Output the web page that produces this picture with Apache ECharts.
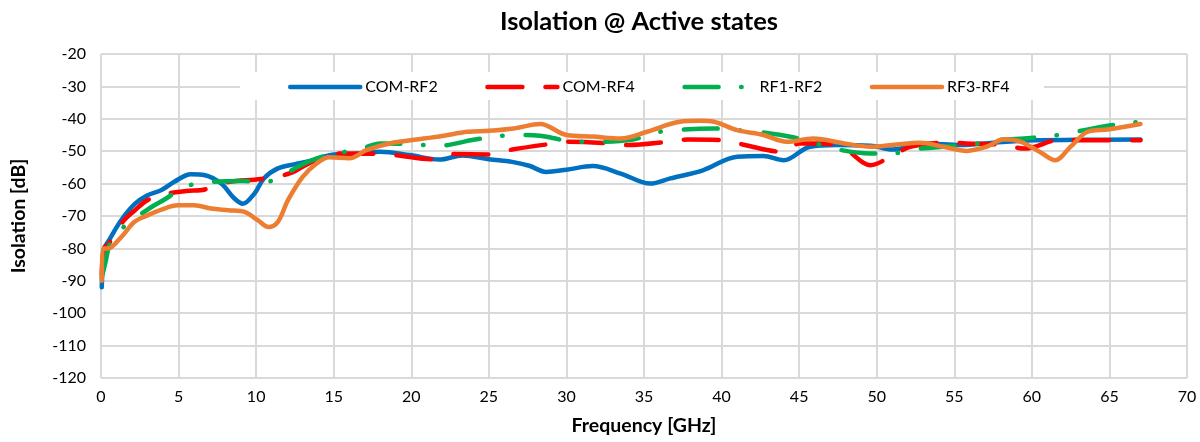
<!DOCTYPE html>
<html>
<head>
<meta charset="utf-8">
<script src="https://cdn.jsdelivr.net/npm/echarts@6/dist/echarts.min.js"></script>
<style>html,body{margin:0;padding:0;background:#fff}#c{width:1200px;height:442px}</style>
</head>
<body>
<div id="c"></div>
<script>
const seriesNames = ['COM-RF2', 'COM-RF4', 'RF1-RF2', 'RF3-RF4'];
const xTicks = {min: 0, max: 70, interval: 5};
const yTicks = {min: -120, max: -20, interval: 10};

const comRf2 = [[0.05,-92],[0.2,-80],[0.45,-78],[1.3,-71.3],[2.2,-66.2],[3,-63.6],[3.9,-62],[4.7,-59.5],[5.8,-57.1],[6.7,-57.4],[7.75,-60],[8.6,-64.6],[9.15,-66.2],[9.9,-63],[10.5,-58.4],[11.4,-55.3],[12.5,-54],[13.5,-53],[15,-51],[16.5,-50.8],[18,-50.2],[19.9,-51.2],[21.8,-52.6],[23.3,-51.3],[25,-52.5],[26.5,-53.3],[27.6,-54.5],[28.7,-56.4],[30,-55.7],[31.7,-54.6],[33.5,-56.9],[35.4,-60],[36.7,-58.4],[38.8,-55.9],[41,-51.7],[42.7,-51.5],[44,-52.8],[45.7,-48.6],[47.4,-48.1],[49.6,-48.3],[51,-49.5],[53.2,-47.6],[55.4,-48.1],[57.5,-47.4],[60.1,-46.6],[63,-46.5],[67,-46.4]];

const comRf4 = [[0.05,-88],[0.2,-80],[0.5,-78.5],[1.4,-71.8],[2.2,-68.2],[3,-65.1],[4.3,-63.1],[5.5,-62.3],[6.7,-61.8],[8.2,-59.5],[10.3,-58.6],[12.2,-56.8],[13.5,-53.5],[15.4,-50.7],[17.8,-50.8],[19,-51.2],[21.4,-52.5],[22.7,-50.9],[25,-51],[26.5,-49.5],[28.9,-47.8],[30.2,-47.1],[32.8,-47.6],[34,-48.1],[36.5,-47.1],[37.8,-46.4],[40.3,-46.6],[41.5,-48.1],[44,-50.2],[45,-47.6],[46.6,-47.6],[48,-49.5],[49.6,-54.3],[50.9,-51.7],[52.2,-48.6],[54.5,-47.4],[55.8,-47.6],[58.2,-48.1],[59.5,-49.2],[61.9,-46.4],[63.2,-46.6],[67,-46.6]];

const rf1Rf2 = [[0.05,-89],[0.3,-84],[0.6,-78],[1.05,-75.1],[2.05,-71.3],[3,-68],[4.2,-64.6],[5.3,-61.2],[6.6,-59.7],[8,-59.3],[9.15,-59.2],[10.4,-59.7],[11.6,-57.9],[12.5,-55.3],[13.5,-53],[15,-50.7],[16.5,-49.7],[18,-47.6],[20.3,-47.9],[21.6,-48.4],[24.1,-46.4],[25.4,-45.5],[26.7,-45],[28.3,-45.2],[29.1,-45.9],[30.5,-47.1],[31.8,-47.1],[34.3,-46.4],[35.7,-44.3],[37,-43.5],[39.5,-43],[41,-43.5],[42.3,-44],[44.6,-45.7],[46,-47.5],[47.2,-49.2],[49.6,-50.7],[51,-50.7],[52.3,-49.5],[54.8,-48.4],[56.2,-47.9],[57.4,-46.8],[59.9,-45.9],[61.3,-45.3],[62.6,-44.2],[65.1,-42],[66.4,-41.2],[67,-41]];

const rf3Rf4 = [[0.05,-90],[0.12,-80],[0.44,-80],[1.3,-76.5],[2.16,-71.8],[3,-69.8],[3.9,-68],[4.95,-66.7],[6,-66.7],[7.1,-67.7],[8.2,-68.2],[9.25,-68.7],[10.1,-71.3],[10.8,-73.4],[11.4,-71.8],[12.05,-65.1],[13,-57.9],[13.9,-53.8],[14.7,-51.9],[16,-52.2],[17.1,-49.7],[18.6,-47.6],[20.8,-46.1],[22,-45.3],[23.6,-44],[25,-43.7],[26.6,-43],[28.3,-41.6],[30,-45],[31.7,-45.5],[33.5,-46.1],[35.2,-44],[37.3,-40.9],[38.6,-40.6],[39.5,-40.9],[41,-43.5],[42.7,-45],[44.2,-47.1],[45.9,-46.1],[47.9,-47.6],[49.6,-48.6],[51,-48.1],[52.8,-47.4],[54.3,-48.6],[55.8,-49.9],[57.1,-48.6],[58.2,-46.3],[59.3,-47.1],[60.6,-50.5],[61.5,-52.8],[62.5,-48.6],[63.6,-44],[64.9,-43.3],[67,-41.6]];

const FONT = 'Lato';
const chart = echarts.init(document.getElementById('c'), null, {renderer: 'canvas'});
function mk(name, data, color, type) {
  return {
    name: name, type: 'line', data: data, smooth: 0.35, symbol: 'none',
    lineStyle: {color: color, width: 4.5, type: type, cap: 'round', join: 'round'},
    itemStyle: {color: color}
  };
}
chart.setOption({
  animation: false,
  backgroundColor: '#fff',
  title: {
    text: 'Isolation @ Active states', left: 634, top: 4, textAlign: 'center',
    textStyle: {fontFamily: FONT, fontWeight: 'bold', fontSize: 25.5, color: '#000'}
  },
  graphic: [{
    type: 'rect', z: 1, silent: true,
    shape: {x: 240, y: 72, width: 804, height: 28},
    style: {fill: '#fff'}
  }],
  legend: {
    z: 5, left: 283, top: 74, itemWidth: 70, itemHeight: 6, itemGap: 47.5,
    itemStyle: {opacity: 0},
    lineStyle: {width: 4.5, cap: 'round'},
    textStyle: {fontFamily: FONT, fontSize: 16, color: '#000'},
    data: seriesNames
  },
  grid: {left: 101, right: 13, top: 54, bottom: 64},
  xAxis: {
    type: 'value', min: xTicks.min, max: xTicks.max, interval: xTicks.interval,
    name: 'Frequency [GHz]', nameLocation: 'middle', nameGap: 38,
    nameTextStyle: {fontFamily: FONT, fontWeight: 'bold', fontSize: 19.5, color: '#000'},
    axisLine: {show: false}, axisTick: {show: false},
    axisLabel: {fontFamily: FONT, fontSize: 16, color: '#000', margin: 11},
    splitLine: {show: true, lineStyle: {color: '#d9d9d9', width: 2}}
  },
  yAxis: {
    type: 'value', min: yTicks.min, max: yTicks.max, interval: yTicks.interval,
    name: 'Isolation [dB]', nameLocation: 'middle', nameGap: 72, nameRotate: 90,
    nameTextStyle: {fontFamily: FONT, fontWeight: 'bold', fontSize: 19.5, color: '#000'},
    axisLine: {show: false}, axisTick: {show: false},
    axisLabel: {fontFamily: FONT, fontSize: 16, color: '#000', margin: 15},
    splitLine: {show: true, lineStyle: {color: '#d9d9d9', width: 2}}
  },
  series: [
    mk(seriesNames[0], comRf2, '#0070C0', 'solid'),
    mk(seriesNames[1], comRf4, '#FF0000', [35, 23]),
    mk(seriesNames[2], rf1Rf2, '#00B050', [34, 22.5, 0.5, 23]),
    mk(seriesNames[3], rf3Rf4, '#ED7D31', 'solid')
  ]
});
</script>
</body>
</html>
